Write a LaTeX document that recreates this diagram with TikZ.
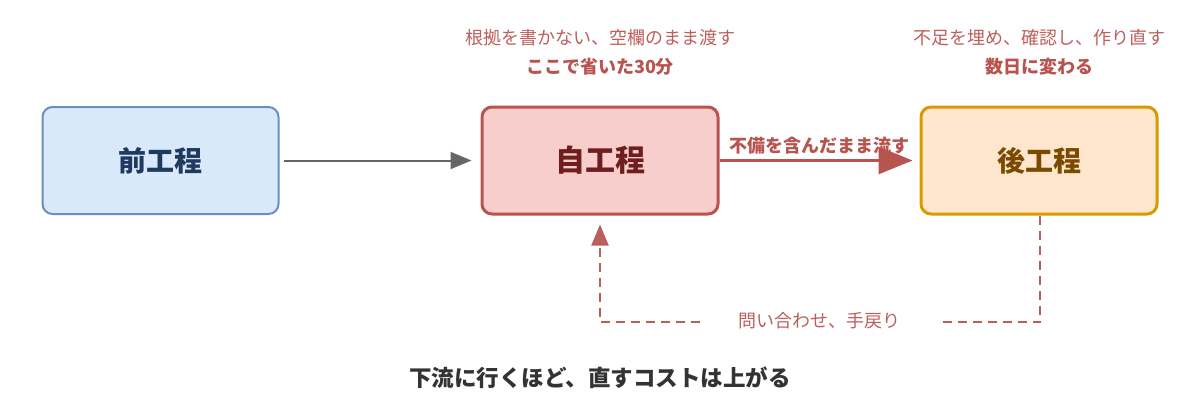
\documentclass[tikz,border=0pt]{standalone}
\usepackage{fontspec}
\setmainfont{Noto Sans CJK JP}
\usetikzlibrary{arrows.meta}
\definecolor{bfill}{HTML}{DAE8FC}\definecolor{bline}{HTML}{6C8EBF}\definecolor{btext}{HTML}{1F3A5F}
\definecolor{rfill}{HTML}{F8CECC}\definecolor{rline}{HTML}{B85450}\definecolor{rtext}{HTML}{6E1E1E}
\definecolor{ofill}{HTML}{FFE6CC}\definecolor{oline}{HTML}{D79B00}\definecolor{otext}{HTML}{7A4A00}
\definecolor{gline}{HTML}{666666}\definecolor{dtext}{HTML}{333333}
\definecolor{note}{HTML}{BC5F5B}
\tikzset{
  box/.style={rounded corners=10pt, minimum width=236pt, minimum height=107pt, inner sep=0pt, font=\bfseries},
  notetxt/.style={text=note, font=\fontsize{18}{20}\selectfont, inner sep=1pt},
  notebold/.style={text=rline, font=\fontsize{18}{20}\selectfont\bfseries, inner sep=1pt},
  fbline/.style={note, line width=2pt, dash pattern=on 9pt off 6pt},
}
\begin{document}
\begin{tikzpicture}[x=1pt,y=-1pt]
\useasboundingbox (0,0) rectangle (1200,418);
\node[box, fill=bfill, draw=bline, line width=2pt, text=btext, font=\fontsize{28}{32}\selectfont\bfseries] (pre) at (160.5,160.5) {前工程};
\node[box, fill=rfill, draw=rline, line width=3pt, text=rtext, font=\fontsize{30}{34}\selectfont\bfseries] (self) at (600,160.5) {自工程};
\node[box, fill=ofill, draw=oline, line width=3pt, text=otext, font=\fontsize{28}{32}\selectfont\bfseries] (post) at (1039,160.5) {後工程};

\draw[gline, line width=2pt, -{Triangle[length=21pt,width=17pt]}, shorten <=4pt, shorten >=9pt] (pre) -- (self);
\draw[rline, line width=3pt, -{Triangle[length=34pt,width=27pt]}, shorten >=7pt] (self) -- node[above=4pt, text=rline, font=\fontsize{18}{20}\selectfont\bfseries, inner sep=1pt] (flowlbl) {不備を含んだまま流す} (post);

\node[notetxt] (n1) at (600,38) {根拠を書かない、空欄のまま渡す};
\node[notebold] (n2) at (600,67) {ここで省いた30分};
\node[notetxt] (n3) at (1039,38) {不足を埋め、確認し、作り直す};
\node[notebold] (n4) at (1039,67) {数日に変わる};

\coordinate (c1) at (1040,322);
\coordinate (c2) at (600,322);
\node[notetxt, inner xsep=38pt] (fb) at (819,321) {問い合わせ、手戻り};
\draw[fbline] (post.south -| c1) -- (c1) -- (fb.east |- c1);
\draw[fbline, -{Triangle[length=21pt,width=17pt]}, shorten >=9pt] (fb.west |- c2) -- (c2) -- (c2 |- self.south);

\node[text=dtext, font=\fontsize{22.5}{26}\selectfont\bfseries] (bottom) at (600,378) {下流に行くほど、直すコストは上がる};
\end{tikzpicture}
\end{document}
